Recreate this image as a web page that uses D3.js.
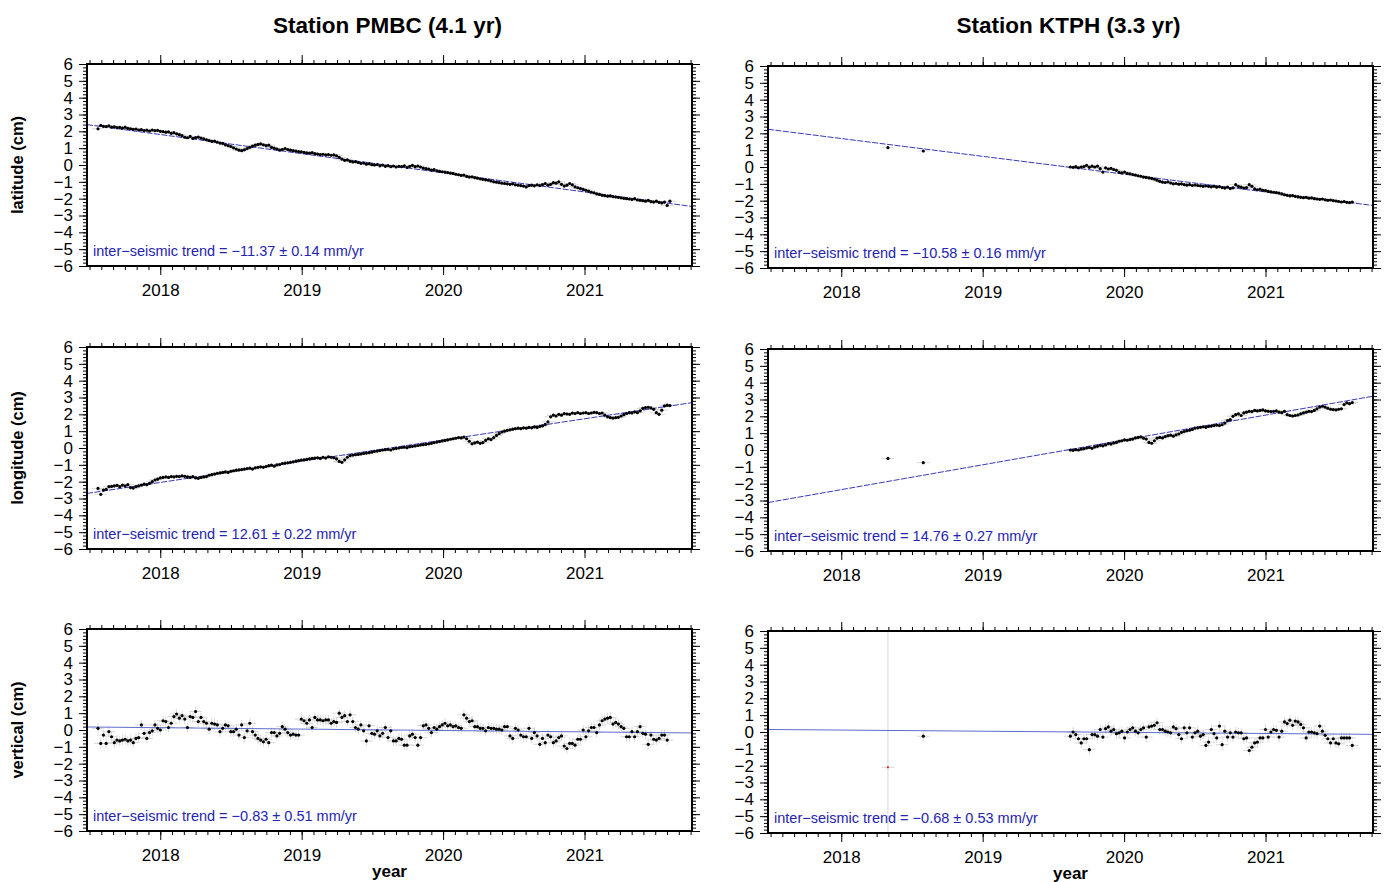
<!DOCTYPE html>
<html>
<head>
<meta charset="utf-8">
<script src="https://cdn.jsdelivr.net/npm/d3@7"></script>
<style>
  body { margin: 0; background: #fff; }
  svg text { font-family: "Liberation Sans", Arial, Helvetica, sans-serif; fill: #000; }
</style>
</head>
<body>
<svg id="chart" width="1387" height="882"></svg>
<script>
// ---------------- data ----------------
const stations = ['PMBC', 'KTPH'];
const spans = ['4.1', '3.3'];
const components = ['latitude', 'longitude', 'vertical'];
const years = [2018, 2019, 2020, 2021];

// weekly GPS solutions: first epoch (decimal year) and weekly step
const pmbcStart = 2017.56;
const ktphStart = 2019.62;
const weekStep = 7 / 365.25;

// PMBC displacements (cm)
const pmbcLat = [
  2.15, 2.35, 2.30, 2.28, 2.33, 2.25, 2.27, 2.22, 2.24, 2.19,
  2.25, 2.18, 2.15, 2.12, 2.14, 2.08, 2.10, 2.05, 2.07, 2.02,
  2.08, 2.04, 2.06, 2.00, 1.98, 1.95, 1.97, 1.88, 1.92, 1.85,
  1.80, 1.74, 1.65, 1.62, 1.70, 1.58, 1.63, 1.66, 1.60, 1.55,
  1.50, 1.45, 1.40, 1.42, 1.35, 1.30, 1.28, 1.20, 1.15, 1.10,
  1.02, 0.95, 0.88, 0.85, 0.90, 0.98, 1.05, 1.12, 1.18, 1.22,
  1.25, 1.20, 1.15, 1.18, 1.05, 1.00, 0.95, 0.88, 0.92, 0.98,
  0.92, 0.88, 0.85, 0.82, 0.80, 0.78, 0.75, 0.72, 0.70, 0.73,
  0.68, 0.65, 0.62, 0.64, 0.60, 0.62, 0.58, 0.60, 0.55, 0.45,
  0.35, 0.28, 0.30, 0.22, 0.18, 0.20, 0.15, 0.10, 0.12, 0.05,
  0.08, 0.02, 0.00, 0.03, -0.05, 0.00, -0.08, -0.04, -0.10, -0.06,
  -0.12, -0.08, -0.10, -0.05, -0.15, -0.08, -0.02, -0.10, -0.06, -0.12,
  -0.18, -0.22, -0.25, -0.30, -0.28, -0.35, -0.38, -0.40, -0.42, -0.45,
  -0.48, -0.50, -0.55, -0.58, -0.62, -0.60, -0.68, -0.72, -0.70, -0.75,
  -0.78, -0.82, -0.85, -0.88, -0.90, -0.95, -1.00, -1.02, -1.05, -1.08,
  -1.10, -1.12, -1.15, -1.12, -1.18, -1.20, -1.22, -1.25, -1.30, -1.22,
  -1.20, -1.24, -1.18, -1.22, -1.16, -1.10, -1.20, -1.15, -1.05, -1.08,
  -1.00, -1.15, -1.25, -1.20, -1.10, -1.18, -1.30, -1.35, -1.40, -1.45,
  -1.50, -1.55, -1.62, -1.65, -1.72, -1.75, -1.80, -1.82, -1.85, -1.84,
  -1.88, -1.90, -1.92, -1.95, -1.98, -2.00, -2.02, -2.05, -2.00, -2.08,
  -2.10, -2.12, -2.15, -2.10, -2.18, -2.20, -2.15, -2.22, -2.25, -2.20, -2.40, -2.15
];
const pmbcLon = [
  -2.40, -2.75, -2.50, -2.45, -2.30, -2.28, -2.25, -2.22, -2.30, -2.20,
  -2.25, -2.18, -2.35, -2.38, -2.30, -2.25, -2.20, -2.15, -2.18, -2.10,
  -2.00, -1.90, -1.85, -1.78, -1.75, -1.72, -1.75, -1.70, -1.72, -1.68,
  -1.70, -1.65, -1.68, -1.72, -1.75, -1.70, -1.78, -1.80, -1.75, -1.72,
  -1.70, -1.62, -1.58, -1.55, -1.50, -1.48, -1.45, -1.42, -1.45, -1.38,
  -1.35, -1.32, -1.30, -1.28, -1.25, -1.22, -1.20, -1.25, -1.18, -1.15,
  -1.12, -1.15, -1.10, -1.05, -1.02, -1.08, -1.00, -0.98, -0.92, -0.90,
  -0.88, -0.85, -0.82, -0.78, -0.75, -0.72, -0.70, -0.68, -0.65, -0.62,
  -0.60, -0.58, -0.62, -0.55, -0.60, -0.52, -0.55, -0.58, -0.65, -0.80,
  -0.85, -0.70, -0.55, -0.45, -0.42, -0.40, -0.38, -0.35, -0.32, -0.30,
  -0.28, -0.25, -0.20, -0.18, -0.15, -0.12, -0.10, -0.08, -0.12, -0.05,
  -0.02, 0.00, 0.03, 0.05, 0.02, 0.08, 0.10, 0.12, 0.15, 0.18,
  0.20, 0.22, 0.25, 0.28, 0.32, 0.35, 0.38, 0.42, 0.45, 0.48,
  0.52, 0.55, 0.58, 0.62, 0.60, 0.65, 0.55, 0.40, 0.25, 0.30,
  0.35, 0.28, 0.32, 0.45, 0.55, 0.50, 0.62, 0.75, 0.85, 0.95,
  1.00, 1.05, 1.08, 1.12, 1.15, 1.18, 1.15, 1.20, 1.18, 1.22,
  1.20, 1.25, 1.22, 1.28, 1.32, 1.40, 1.55, 1.85, 1.95, 1.90,
  2.00, 1.95, 2.05, 2.02, 2.00, 2.08, 2.05, 2.10, 2.05, 2.08,
  2.10, 2.05, 2.08, 2.12, 2.10, 2.05, 2.08, 1.95, 1.85, 1.80,
  1.78, 1.80, 1.82, 1.90, 1.98, 2.05, 2.10, 2.08, 2.15, 2.10,
  2.20, 2.35, 2.40, 2.42, 2.38, 2.30, 2.10, 2.00, 2.25, 2.50, 2.55, 2.52
];
const pmbcVert = [
  0.1, -0.8, -0.3, -0.8, -0.1, -0.4, -0.75, -0.6, -0.65, -0.6,
  -0.55, -0.65, -0.6, -0.75, -0.5, -0.45, 0.3, -0.2, -0.5, -0.15,
  -0.05, 0.3, 0.1, 0.0, 0.55, 0.5, 0.15, 0.4, 0.8, 0.95,
  0.7, 0.85, 0.65, 0.15, 0.8, 0.75, 1.1, 0.5, 0.75, 0.5,
  0.4, 0.05, 0.4, 0.35, 0.3, -0.1, 0.1, 0.3, 0.25, -0.1,
  -0.1, 0.05, -0.3, 0.3, -0.45, -0.05, 0.4, -0.1, -0.3, -0.5,
  -0.6, -0.7, -0.55, -0.75, -0.15, -0.15, -0.35, -0.2, 0.2, 0.05,
  -0.15, -0.3, -0.25, -0.3, -0.3, 0.65, 0.55, 0.4, 0.6, 0.15,
  0.75, 0.6, 0.6, 0.55, 0.6, 0.6, 0.4, 0.5, 0.45, 1.0,
  0.75, 0.85, 0.5, 0.9, 0.5, 0.15, 0.05, 0.3, -0.05, -0.65,
  0.25, -0.2, -0.25, -0.05, -0.35, -0.2, 0.15, -0.45, -0.05, -0.65,
  -0.65, -0.5, -0.55, -0.9, -0.9, -0.35, -0.25, -0.45, -0.9, -0.45,
  0.25, 0.3, 0.1, -0.15, 0.15, 0.05, 0.2, 0.3, 0.4, 0.25,
  0.3, 0.2, 0.25, 0.15, 0.1, 0.9, 0.7, 0.5, 0.55, 0.2,
  0.2, 0.1, 0.1, -0.05, 0.15, 0.1, 0.1, 0.05, 0.05, 0.0,
  0.2, 0.2, -0.35, -0.5, 0.1, 0.0, -0.3, -0.4, -0.4, 0.1,
  -0.5, -0.15, -0.35, -0.85, -0.5, -0.75, -0.3, -0.4, -0.75, -0.65,
  -0.45, -0.35, -0.95, -1.1, -0.8, -0.8, -0.9, -0.55, -0.55, 0.0,
  -0.4, -0.05, 0.15, 0.15, -0.15, 0.3, 0.55, 0.65, 0.7, 0.75,
  0.35, 0.45, 0.35, 0.2, 0.1, -0.4, -0.4, -0.1, -0.4, -0.1,
  0.2, -0.2, -0.25, -0.85, -0.3, -0.55, -0.6, -0.5, -0.3, -0.3, -0.6
];

// KTPH displacements (cm)
const ktphLat = [
  0.00, -0.02, 0.02, -0.05, 0.00, 0.03, 0.10, -0.02, 0.05, 0.00,
  0.05, -0.10, -0.30, -0.05, -0.12, -0.08, -0.15, -0.20, -0.32, -0.35,
  -0.30, -0.38, -0.40, -0.45, -0.48, -0.52, -0.55, -0.60, -0.62, -0.65,
  -0.68, -0.72, -0.78, -0.85, -0.90, -0.92, -0.88, -0.95, -1.00, -0.98,
  -1.02, -1.00, -1.05, -1.08, -1.05, -1.10, -1.07, -1.10, -1.12, -1.15,
  -1.12, -1.15, -1.18, -1.14, -1.20, -1.16, -1.22, -1.25, -1.20, -1.28,
  -1.24, -1.05, -1.15, -1.20, -1.25, -1.22, -1.05, -1.15, -1.30, -1.35,
  -1.32, -1.38, -1.40, -1.45, -1.48, -1.50, -1.52, -1.55, -1.60, -1.65,
  -1.68, -1.72, -1.70, -1.75, -1.78, -1.80, -1.82, -1.80, -1.85, -1.84,
  -1.88, -1.90, -1.92, -1.90, -1.95, -1.98, -1.96, -2.00, -2.02, -2.05,
  -2.08, -2.05, -2.10, -2.12, -2.08
];
const ktphLon = [
  0.00, -0.02, 0.02, 0.00, 0.05, 0.08, 0.12, 0.15, 0.10, 0.18,
  0.22, 0.28, 0.25, 0.30, 0.38, 0.35, 0.42, 0.45, 0.52, 0.55,
  0.60, 0.58, 0.62, 0.65, 0.72, 0.75, 0.78, 0.70, 0.65, 0.45,
  0.40, 0.55, 0.70, 0.75, 0.72, 0.80, 0.85, 0.88, 0.82, 0.90,
  0.95, 1.05, 1.10, 1.15, 1.18, 1.22, 1.30, 1.32, 1.35, 1.38,
  1.35, 1.40, 1.42, 1.45, 1.48, 1.45, 1.50, 1.60, 1.75, 1.80,
  2.00, 2.10, 2.15, 2.05, 2.20, 2.25, 2.30, 2.28, 2.35, 2.32,
  2.35, 2.38, 2.32, 2.30, 2.28, 2.30, 2.32, 2.25, 2.22, 2.30,
  2.10, 2.05, 2.02, 2.05, 2.08, 2.15, 2.20, 2.25, 2.30, 2.28,
  2.35, 2.45, 2.55, 2.60, 2.55, 2.48, 2.42, 2.40, 2.38, 2.42,
  2.45, 2.70, 2.80, 2.75, 2.82
];
const ktphVert = [
  -0.25, 0, -0.15, -0.4, -0.65, -0.4, -0.4, -1.05, -0.15, -0.15,
  -0.25, 0.15, -0.3, 0.2, 0.3, 0.05, 0.15, -0.1, -0.05, 0.05,
  -0.35, 0, 0.15, 0.25, 0.05, -0.05, 0.15, 0.25, -0.3, 0.3,
  0.35, 0.4, 0.55, 0.15, 0.15, 0.05, 0, -0.05, 0.3, 0.2,
  -0.15, -0.4, 0.25, -0.05, 0.25, -0.3, -0.05, 0.05, -0.25, -0.15,
  -0.8, -0.6, 0.15, -0.1, -0.35, 0.35, -0.75, 0.05, -0.3, -0.05,
  -0.3, 0, -0.05, -0.05, -0.4, -0.35, -1.1, -0.9, -0.65, -0.6,
  -0.35, -0.35, 0.15, -0.3, 0, 0.15, 0.1, -0.3, 0.05, 0.6,
  0.5, 0.7, 0.4, 0.65, 0.6, 0.45, 0.25, -0.35, 0, 0,
  -0.05, -0.1, 0.35, 0.05, -0.2, -0.4, -0.65, -0.4, -0.65, -0.7,
  -0.35, -0.35, -0.35, -0.35, -0.8
];
// two early KTPH campaign epochs
const ktphEarlyYears = [2018.33, 2018.58];
const ktphEarlyLat = [1.15, 0.95];
const ktphEarlyLon = [-0.5, -0.75];
const ktphEarlyVert = [-2.1, -0.25];
const ktphEarlyVertSigma = [12, 0.3];   // the first one is a rejected outlier

// inter-seismic velocities (mm/yr) and trend value (cm) at start of time axis
const pmbcRates = [-11.37, 12.61, -0.83];
const pmbcRateErr = [0.14, 0.22, 0.51];
const pmbcTrendStart = [2.40, -2.70, 0.18];
const ktphRates = [-10.58, 14.76, -0.68];
const ktphRateErr = [0.16, 0.27, 0.53];
const ktphTrendStart = [2.24, -3.12, 0.15];

// 1-sigma half heights of error bars per component (cm)
const sigma = [0.08, 0.1, 0.3];

// ---------------- layout ----------------
const timeDomain = [2017.482, 2021.76];
const colX = [87, 768];
const panelW = 605;
const panelH = 202;
const rowTops = [[64, 347, 629], [66, 349, 631]];
const blue = '#2424b0';

const svg = d3.select('#chart');
const fmtSigned = d3.format('.2f');

const series = [
  { start: pmbcStart, comps: [pmbcLat, pmbcLon, pmbcVert], rates: pmbcRates, errs: pmbcRateErr, t0: pmbcTrendStart, early: null },
  { start: ktphStart, comps: [ktphLat, ktphLon, ktphVert], rates: ktphRates, errs: ktphRateErr, t0: ktphTrendStart,
    early: [ktphEarlyLat, ktphEarlyLon, ktphEarlyVert] }
];

stations.forEach((st, c) => {
  const x0 = colX[c];
  // column title
  svg.append('text')
    .attr('x', x0 + panelW / 2 - 2)
    .attr('y', 33)
    .attr('text-anchor', 'middle')
    .attr('font-size', 22.5)
    .attr('font-weight', 'bold')
    .text(`Station ${st} (${spans[c]} yr)`);

  components.forEach((comp, r) => {
    const top = rowTops[c][r];
    drawPanel(x0, top, series[c], c, r, comp);
  });

  // x-axis title under bottom row
  svg.append('text')
    .attr('x', x0 + panelW / 2)
    .attr('y', 877 + c * 2)
    .attr('text-anchor', 'middle')
    .attr('font-size', 17)
    .attr('font-weight', 'bold')
    .text('year');
});

function drawPanel(x0, top, s, c, r, comp) {
  const x = d3.scaleLinear().domain(timeDomain).range([x0, x0 + panelW]);
  const y = d3.scaleLinear().domain([-6, 6]).range([top + panelH, top]);
  const g = svg.append('g');

  const clipId = `clip-${c}-${r}`;
  g.append('clipPath').attr('id', clipId)
    .append('rect')
    .attr('x', x0).attr('y', top)
    .attr('width', panelW).attr('height', panelH);

  const plot = g.append('g').attr('clip-path', `url(#${clipId})`);

  // points
  const vals = s.comps[r];
  const pts = vals.map((v, i) => ({ t: s.start + i * weekStep, v: v, e: sigma[r], red: false }));
  if (s.early) {
    s.early[r].forEach((v, i) => {
      const e = r === 2 ? ktphEarlyVertSigma[i] : sigma[r];
      pts.push({ t: ktphEarlyYears[i], v: v, e: e, red: r === 2 && i === 0 });
    });
  }

  // error bars
  const eb = plot.append('g')
    .attr('stroke', '#d4d4d4')
    .attr('stroke-width', 0.9);
  eb.selectAll('line.v')
    .data(pts)
    .join('line')
    .attr('x1', d => x(d.t)).attr('x2', d => x(d.t))
    .attr('y1', d => y(d.v - d.e)).attr('y2', d => y(d.v + d.e));
  eb.selectAll('line.h')
    .data(pts)
    .enter().append('line')
    .attr('x1', d => x(d.t - 0.045)).attr('x2', d => x(d.t + 0.045))
    .attr('y1', d => y(d.v)).attr('y2', d => y(d.v));

  // trend line
  const rate = s.rates[r] / 10;
  plot.append('line')
    .attr('x1', x(timeDomain[0]))
    .attr('y1', y(s.t0[r]))
    .attr('x2', x(timeDomain[1]))
    .attr('y2', y(s.t0[r] + rate * (timeDomain[1] - timeDomain[0])))
    .attr('stroke', r === 2 ? '#4c5cc4' : blue)
    .attr('stroke-width', 0.9)
    .attr('stroke-dasharray', r === 2 ? null : '6,1.5');

  plot.append('g')
    .selectAll('circle')
    .data(pts)
    .join('circle')
    .attr('cx', d => x(d.t))
    .attr('cy', d => y(d.v))
    .attr('r', d => d.red ? 1.1 : 1.6)
    .attr('fill', d => d.red ? '#e02020' : '#000');

  // axes
  const yMinor = d3.range(-6, 6.001, 0.2);
  const months = d3.range(2017.5, timeDomain[1], 1 / 12);

  const addAxis = (axis, tr) => {
    const a = g.append('g').attr('transform', tr).call(axis);
    a.select('.domain').remove();
    a.selectAll('line').attr('stroke', '#000').attr('stroke-width', 1);
    a.selectAll('text').attr('font-size', 17).attr('fill', '#000');
    return a;
  };
  const noLab = () => '';

  addAxis(d3.axisLeft(y).tickValues(yMinor).tickSize(4).tickFormat(noLab), `translate(${x0},0)`);
  addAxis(d3.axisLeft(y).tickValues(d3.range(-6, 7)).tickSize(8).tickPadding(6)
    .tickFormat(d3.format('d')), `translate(${x0},0)`);
  addAxis(d3.axisRight(y).tickValues(yMinor).tickSize(4).tickFormat(noLab), `translate(${x0 + panelW},0)`);
  addAxis(d3.axisRight(y).tickValues(d3.range(-6, 7)).tickSize(8).tickFormat(noLab), `translate(${x0 + panelW},0)`);

  addAxis(d3.axisTop(x).tickValues(months).tickSize(4).tickFormat(noLab), `translate(0,${top})`);
  addAxis(d3.axisTop(x).tickValues(years).tickSize(9).tickFormat(noLab), `translate(0,${top})`);
  addAxis(d3.axisBottom(x).tickValues(months).tickSize(4).tickFormat(noLab), `translate(0,${top + panelH})`);
  addAxis(d3.axisBottom(x).tickValues(years).tickSize(9).tickPadding(9)
    .tickFormat(d3.format('d')), `translate(0,${top + panelH})`);

  // frame
  g.append('rect')
    .attr('x', x0).attr('y', top)
    .attr('width', panelW).attr('height', panelH)
    .attr('fill', 'none')
    .attr('stroke', '#000')
    .attr('stroke-width', 2);

  // trend annotation
  const rv = s.rates[r];
  const rateTxt = (rv < 0 ? '\u2212' : '') + fmtSigned(Math.abs(rv));
  g.append('text')
    .attr('x', x0 + 6)
    .attr('y', top + panelH - 10)
    .attr('font-size', 14.5)
    .style('fill', blue)
    .text(`inter\u2212seismic trend = ${rateTxt} \u00b1 ${fmtSigned(s.errs[r])} mm/yr`);

  // y-axis title (left column only)
  if (c === 0) {
    svg.append('text')
      .attr('transform', `translate(23,${top + panelH / 2}) rotate(-90)`)
      .attr('text-anchor', 'middle')
      .attr('font-size', 16.5)
      .attr('font-weight', 'bold')
      .text(`${comp} (cm)`);
  }
}
</script>
</body>
</html>
